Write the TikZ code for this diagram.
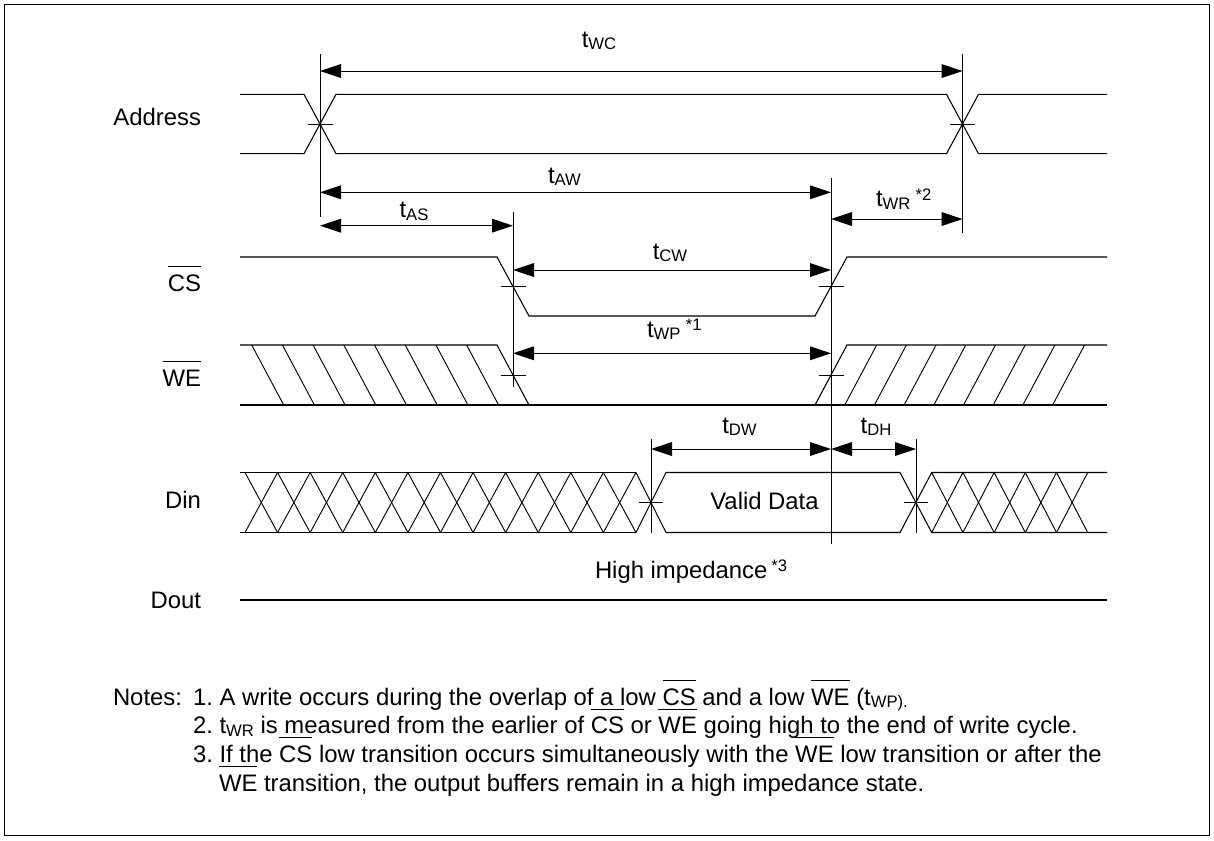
\documentclass[tikz,border=0pt]{standalone}
\usepackage{fontspec}
\setmainfont{Liberation Sans}
\usetikzlibrary{arrows.meta}
\frenchspacing
\newcommand\ovl[1]{\setbox0\hbox{#1}\rlap{\raisebox{\dimexpr\ht0+5.8pt\relax}{\rule{\wd0}{0.6pt}}}\box0\relax}
\newcommand\tsub[1]{\raisebox{-2pt}{\fontsize{12.5}{14}\selectfont #1}}
\newcommand\tsup[1]{\raisebox{4.7pt}{\fontsize{12.5}{14}\selectfont #1}}
\tikzset{
  lbl/.style={font=\fontsize{17.9}{21.4}\selectfont, inner sep=0pt, outer sep=0pt},
  dim/.style={line width=0.75pt, arrows={Triangle[length=15.75pt,width=10.3pt]-Triangle[length=15.75pt,width=10.3pt]}},
  wave/.style={line width=0.8pt, line join=miter},
  guide/.style={line width=0.75pt},
  tickmark/.style={line width=0.75pt},
  hatch/.style={line width=0.7pt}
}
\begin{document}
\begin{tikzpicture}[x=0.75pt,y=-0.75pt]
\useasboundingbox (0,0) rectangle (1214,840);
% frame
\draw[line width=0.75pt] (4.5,4.5) rectangle (1209.5,835.5);

% ---------- Address ----------
\draw[wave] (240,94.3) -- (304,94.3) -- (336,153.7) -- (946.5,153.7) -- (978.5,94.3) -- (1107,94.3);
\draw[wave] (240,153.7) -- (304,153.7) -- (336,94.3) -- (946.5,94.3) -- (978.5,153.7) -- (1107,153.7);
\draw[tickmark] (307.5,124) -- (332.5,124);
\draw[tickmark] (950,124) -- (975,124);

% ---------- CS ----------
\draw[wave] (240,257) -- (497,257) -- (529,316) -- (815,316) -- (847,257) -- (1107,257);
\draw[tickmark] (500.5,286.5) -- (525.5,286.5);
\draw[tickmark] (818.5,286.5) -- (843.5,286.5);

% ---------- WE ----------
\draw[wave] (240,345) -- (497,345) -- (529,405);
\draw[wave] (240,405) -- (1107,405);
\draw[wave] (815,405) -- (847,345) -- (1107,345);
\foreach \k in {0,...,7} \draw[hatch] (251.7+30.7*\k,345) -- (283.7+30.7*\k,405);
\foreach \k in {0,...,7} \draw[hatch] (876.7+29.7*\k,345) -- (844.7+29.7*\k,405);
\draw[tickmark] (500.5,375) -- (525.5,375);
\draw[tickmark] (818.5,375) -- (843.5,375);

% ---------- Din ----------
\draw[wave] (240,472.5) -- (636,472.5);
\draw[wave] (240,532.5) -- (636,532.5);
\foreach \k in {0,...,11} {
  \draw[hatch] (245+32.58*\k,472.5) -- (277.58+32.58*\k,532.5);
  \draw[hatch] (245+32.58*\k,532.5) -- (277.58+32.58*\k,472.5);
}
\draw[wave] (636,472.5) -- (666,532.5) -- (900,532.5) -- (931.7,472.5) -- (1107,472.5);
\draw[wave] (636,532.5) -- (666,472.5) -- (900,472.5) -- (931.7,532.5) -- (1107,532.5);
\foreach \k in {0,...,4} {
  \draw[hatch] (931.7+31.2*\k,472.5) -- (962.9+31.2*\k,532.5);
  \draw[hatch] (931.7+31.2*\k,532.5) -- (962.9+31.2*\k,472.5);
}
\draw[tickmark] (639,502.5) -- (663,502.5);
\draw[tickmark] (904,502.5) -- (928,502.5);

% ---------- Dout ----------
\draw[wave] (240,600) -- (1107,600);

% ---------- guide lines ----------
\coordinate (gA1) at (320,54);    \coordinate (gA2) at (320,216.7);
\coordinate (gB1) at (962.5,54);  \coordinate (gB2) at (962.5,232.7);
\coordinate (gC1) at (513,211.7); \coordinate (gC2) at (513,386.7);
\coordinate (gD1) at (831,178);   \coordinate (gD2) at (831,544);
\coordinate (gE1) at (651,439.3); \coordinate (gE2) at (651,532.5);
\coordinate (gF1) at (916,439.3); \coordinate (gF2) at (916,532.5);
\draw[guide] (gA1) -- (gA2);
\draw[guide] (gB1) -- (gB2);
\draw[guide] (gC1) -- (gC2);
\draw[guide] (gD1) -- (gD2);
\draw[guide] (gE1) -- (gE2);
\draw[guide] (gF1) -- (gF2);

% ---------- dimension arrows ----------
\coordinate (wc1) at (320,71);    \coordinate (wc2) at (962.5,71);
\coordinate (aw1) at (320,192.3); \coordinate (aw2) at (831,192.3);
\coordinate (as1) at (320,225.7); \coordinate (as2) at (513,225.7);
\coordinate (wr1) at (831,219);   \coordinate (wr2) at (962.5,219);
\coordinate (cw1) at (513,270);   \coordinate (cw2) at (831,270);
\coordinate (wp1) at (513,353.3); \coordinate (wp2) at (831,353.3);
\coordinate (dw1) at (651,449);   \coordinate (dw2) at (831,449);
\coordinate (dh1) at (831,449);   \coordinate (dh2) at (916,449);
\draw[dim] (wc1) -- (wc2);
\draw[dim] (aw1) -- (aw2);
\draw[dim] (as1) -- (as2);
\draw[dim] (wr1) -- (wr2);
\draw[dim] (cw1) -- (cw2);
\draw[dim] (wp1) -- (wp2);
\draw[dim] (dw1) -- (dw2);
\draw[dim] (dh1) -- (dh2);

% ---------- timing labels ----------
\node[lbl,anchor=base] (tWC) at (599,47) {t\tsub{WC}};
\node[lbl,anchor=base] (tAW) at (564.5,183.3) {t\tsub{AW}};
\node[lbl,anchor=base] (tAS) at (414,217.7) {t\tsub{AS}};
\node[lbl,anchor=base west] (tWR) at (876,206.7) {t\tsub{WR}\hspace{4pt}\tsup{*2}};
\node[lbl,anchor=base] (tCW) at (670,259) {t\tsub{CW}};
\node[lbl,anchor=base west] (tWP) at (647,337) {t\tsub{WP}\hspace{4pt}\tsup{*1}};
\node[lbl,anchor=base] (tDW) at (739.5,433) {t\tsub{DW}};
\node[lbl,anchor=base] (tDH) at (876,433) {t\tsub{DH}};
\node[lbl,anchor=base] (valid) at (764.5,509) {Valid Data};
\node[lbl,anchor=base west] (hiz) at (595,578) {High impedance\hspace{3pt}\tsup{*3}};

% ---------- signal names ----------
\node[lbl,anchor=base east] (lAddr) at (201,125) {Address};
\node[lbl,anchor=base east] (lCS) at (201,291) {\ovl{CS}};
\node[lbl,anchor=base east] (lWE) at (201,386) {\ovl{WE}};
\node[lbl,anchor=base east] (lDin) at (201,508.5) {Din};
\node[lbl,anchor=base east] (lDout) at (201,608.5) {Dout};

% ---------- notes ----------
\node[lbl,anchor=base west] (notes) at (113,705) {Notes:};
\node[lbl,anchor=base west] (n1) at (193,705) {1. A write occurs during the overlap of a low \ovl{CS} and a low \ovl{WE} (t\tsub{WP).}};
\node[lbl,anchor=base west] (n2) at (193,733.7) {2. t\tsub{WR} is measured from the earlier of \ovl{CS} or \ovl{WE} going high to the end of write cycle.};
\node[lbl,anchor=base west] (n3) at (193,762.4) {3. If the \ovl{CS} low transition occurs simultaneously with the \ovl{WE} low transition or after the};
\node[lbl,anchor=base west] (n4) at (219,791) {\ovl{WE} transition, the output buffers remain in a high impedance state.};
\end{tikzpicture}
\end{document}
